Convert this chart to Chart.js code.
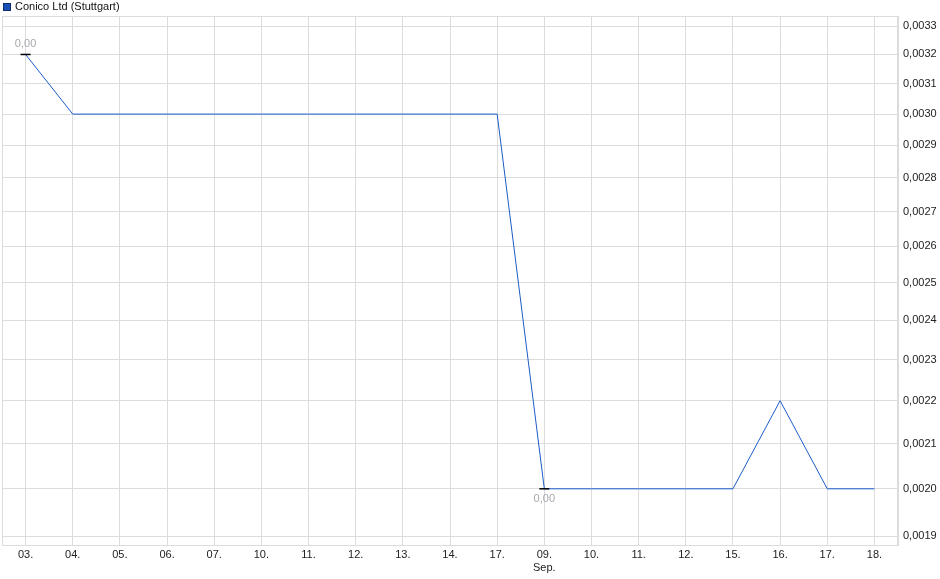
<!DOCTYPE html>
<html>
<head>
<meta charset="utf-8">
<script src="https://cdn.jsdelivr.net/npm/chart.js@4/dist/chart.umd.min.js"></script>
<style>
html,body{margin:0;padding:0;background:#fff;}
canvas{display:block;}
</style>
</head>
<body>
<canvas id="c" width="940" height="579"></canvas>
<script>
const seriesName = 'Conico Ltd (Stuttgart)';
const categories = ['03.','04.','05.','06.','07.','10.','11.','12.','13.','14.','17.','09.','10.','11.','12.','15.','16.','17.','18.'];
const monthLabels = {11: 'Sep.'};
const prices = [0.0032,0.0030,0.0030,0.0030,0.0030,0.0030,0.0030,0.0030,0.0030,0.0030,0.0030,0.0020,0.0020,0.0020,0.0020,0.0020,0.0022,0.0020,0.0020];
const yTicks = [0.0019,0.0020,0.0021,0.0022,0.0023,0.0024,0.0025,0.0026,0.0027,0.0028,0.0029,0.0030,0.0031,0.0032,0.0033];
const yMin = 0.001882, yMax = 0.003336;
const extremeLabel = '0,00';

const gridColor = '#dcdcdc';
const lineColor = '#1c5cc8';
const font = {family: '"Liberation Sans", Arial, sans-serif', size: 11};

const frame = {
  id: 'frame',
  beforeDatasetsDraw(chart) {
    const {ctx, chartArea: a} = chart;
    ctx.save();
    ctx.strokeStyle = gridColor;
    ctx.lineWidth = 1;
    ctx.strokeRect(Math.round(a.left) + 0.5, Math.round(a.top) + 0.5, Math.round(a.right - a.left) - 1, Math.round(a.bottom - a.top));
    ctx.restore();
  },
  afterDraw(chart) {
    const {ctx} = chart;
    // legend
    ctx.save();
    ctx.fillStyle = '#1a4fb8';
    ctx.fillRect(3, 3, 8, 8);
    ctx.strokeStyle = '#0d2f70';
    ctx.lineWidth = 1;
    ctx.strokeRect(3.5, 3.5, 7, 7);
    ctx.fillStyle = '#111';
    ctx.font = '11px "Liberation Sans", Arial, sans-serif';
    ctx.textBaseline = 'middle';
    ctx.textAlign = 'left';
    ctx.fillText(seriesName, 15, 7);
    // extremes
    const xs = chart.scales.x, ys = chart.scales.y;
    let iMax = 0, iMin = 0;
    prices.forEach((v, i) => { if (v > prices[iMax]) iMax = i; if (v < prices[iMin]) iMin = i; });
    const marks = [[iMax, -10], [iMin, 10]];
    marks.forEach(([i, dy]) => {
      const px = xs.getPixelForValue(i), py = ys.getPixelForValue(prices[i]);
      ctx.strokeStyle = '#000';
      ctx.lineWidth = 1.5;
      ctx.beginPath();
      ctx.moveTo(px - 5, py);
      ctx.lineTo(px + 5, py);
      ctx.stroke();
      ctx.fillStyle = '#a8a8ae';
      ctx.textAlign = 'center';
      ctx.fillText(extremeLabel, px, py + dy);
    });
    ctx.restore();
  }
};

new Chart(document.getElementById('c'), {
  type: 'line',
  data: {
    labels: categories,
    datasets: [{
      label: seriesName,
      data: prices,
      borderColor: lineColor,
      borderWidth: 1,
      pointRadius: 0,
      tension: 0,
      fill: false
    }]
  },
  options: {
    responsive: false,
    animation: false,
    devicePixelRatio: 1,
    layout: {padding: {left: 2, top: 16, right: 0, bottom: 0}},
    plugins: {legend: {display: false}, tooltip: {enabled: false}},
    scales: {
      x: {
        type: 'category',
        offset: true,
        grid: {color: gridColor, offset: false, drawTicks: false},
        border: {display: true, color: gridColor},
        ticks: {
          color: '#222', font: font, padding: 3, autoSkip: false, maxRotation: 0,
          callback: (v, i) => monthLabels[i] ? [categories[i], monthLabels[i]] : categories[i]
        },
        afterFit: s => { s.height = 34; }
      },
      y: {
        type: 'logarithmic',
        position: 'right',
        min: yMin,
        max: yMax,
        afterBuildTicks: s => { s.ticks = yTicks.map(v => ({value: v})); },
        grid: {color: gridColor, drawTicks: false},
        border: {display: true, color: gridColor},
        ticks: {
          color: '#222', font: font, padding: 5,
          callback: v => v.toFixed(4).replace('.', ',')
        },
        afterFit: s => { s.width = 42; }
      }
    }
  },
  plugins: [frame]
});
</script>
</body>
</html>
